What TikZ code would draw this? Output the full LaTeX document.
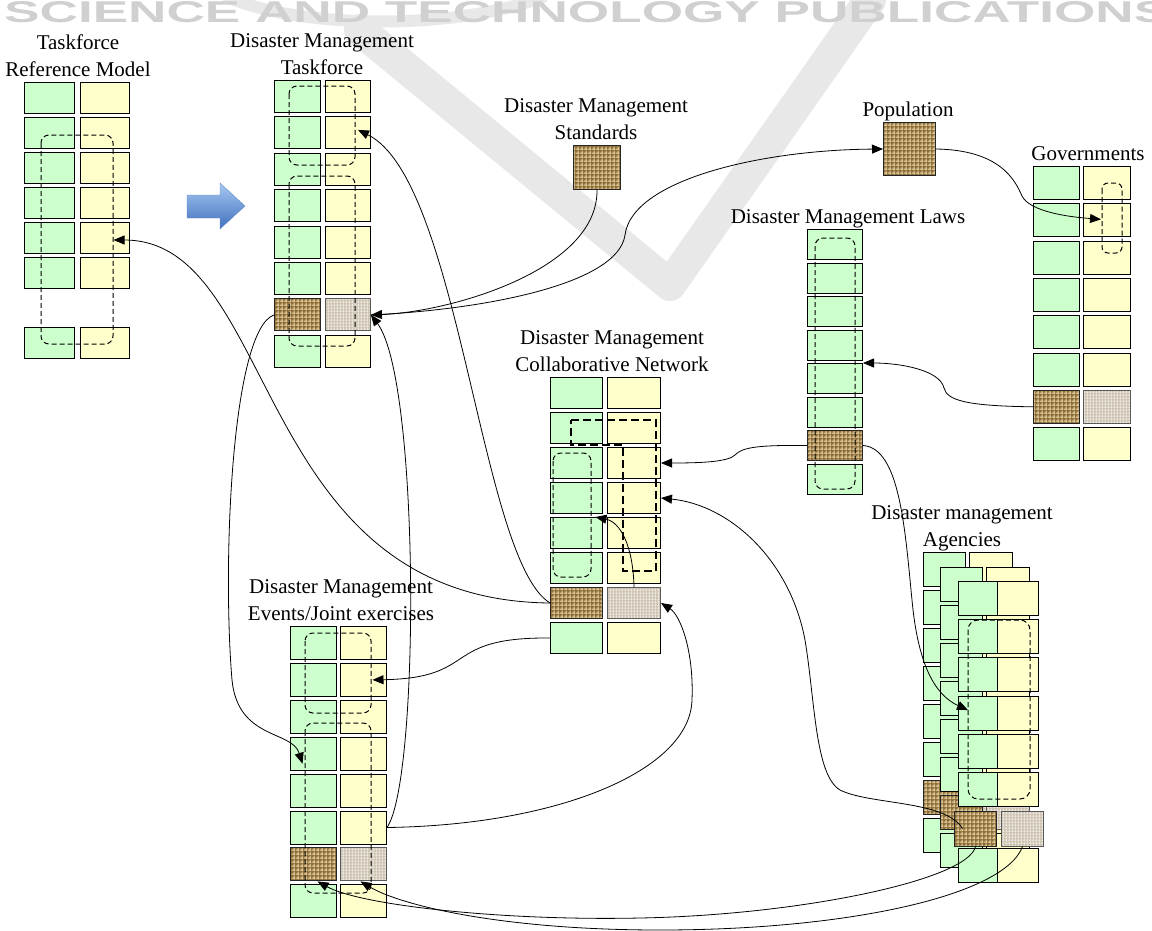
\documentclass[tikz,border=0pt]{standalone}
\usepackage{fontspec}
\usepackage{graphicx}
\setmainfont{Liberation Serif}
\newfontfamily\wmfont{Liberation Sans}
\usetikzlibrary{arrows.meta,patterns,calc}

% coarse weave for the burlap cells, finer one for the linen cells
\pgfdeclarepatternformonly{weave}{\pgfqpoint{0pt}{0pt}}{\pgfqpoint{4pt}{4pt}}{\pgfqpoint{4pt}{4pt}}{%
  \pgfsetlinewidth{1.2pt}%
  \pgfpathmoveto{\pgfqpoint{0pt}{1pt}}\pgfpathlineto{\pgfqpoint{4pt}{1pt}}%
  \pgfpathmoveto{\pgfqpoint{2.6pt}{0pt}}\pgfpathlineto{\pgfqpoint{2.6pt}{4pt}}%
  \pgfusepath{stroke}}
\pgfdeclarepatternformonly{fineweave}{\pgfqpoint{0pt}{0pt}}{\pgfqpoint{3pt}{3pt}}{\pgfqpoint{3pt}{3pt}}{%
  \pgfsetlinewidth{0.8pt}%
  \pgfpathmoveto{\pgfqpoint{0pt}{1pt}}\pgfpathlineto{\pgfqpoint{3pt}{1pt}}%
  \pgfpathmoveto{\pgfqpoint{2pt}{0pt}}\pgfpathlineto{\pgfqpoint{2pt}{3pt}}%
  \pgfusepath{stroke}}

\definecolor{cgreen}{HTML}{CCFFCC}
\definecolor{cyellow}{HTML}{FFFFCC}
\definecolor{burlap}{HTML}{8E6C38}
\definecolor{burlapweave}{HTML}{E6D6A4}
\definecolor{linen}{HTML}{CEC4B3}
\definecolor{linenweave}{HTML}{EDE8DF}
\definecolor{arrowtop}{HTML}{A6C8F2}
\definecolor{arrowbot}{HTML}{4170BE}
\definecolor{wmgray}{HTML}{D0D0D0}
\definecolor{swoosh}{HTML}{E8E8E8}

\tikzset{
  cell/.style={draw=black, line width=1pt, inner sep=0pt, anchor=north west},
  gcell/.style={cell, fill=cgreen},
  ycell/.style={cell, fill=cyellow},
  bcell/.style={cell, draw=black!85, preaction={fill=burlap}, pattern=weave, pattern color=burlapweave},
  lcell/.style={cell, draw=black!65, preaction={fill=linen}, pattern=fineweave, pattern color=linenweave},
  grp/.style={draw=black, line width=1pt, dash pattern=on 5pt off 3pt, rounded corners=8pt},
  boldgrp/.style={draw=black, line width=2.2pt, dash pattern=on 8pt off 4pt},
  link/.style={draw=black, line width=0.8pt, -{Triangle[length=11pt,width=9pt]}},
  title/.style={font=\fontsize{21}{27}\selectfont, align=center, anchor=south, inner sep=0pt, text depth=0pt},
}

\begin{document}
\begin{tikzpicture}[x=1pt,y=-1pt]
\clip (0,0) rectangle (1152,930);
\fill[white] (0,0) rectangle (1152,930);

% faint publisher watermark
\draw[swoosh, line width=32pt, line join=round, line cap=round] (360,30) -- (670,285) -- (870,0);
\draw[swoosh, line width=12pt] (225,-4) .. controls (300,30) and (460,30) .. (545,-4);
\node[anchor=north west, inner sep=0pt, text=wmgray] (wm) at (4,1)
  {\resizebox{1165pt}{21pt}{\wmfont\bfseries SCIENCE AND TECHNOLOGY PUBLICATIONS}};

% ---------- Taskforce Reference Model ----------
\foreach \k/\y in {1/82,2/117,3/152,4/187,5/222,6/257,7/327}{
  \node[gcell, minimum width=50pt, minimum height=31pt] (trm-l\k) at (24,\y) {};
  \node[ycell, minimum width=49pt, minimum height=31pt] (trm-r\k) at (80,\y) {};
}
\draw[grp] (41,135) rectangle (113,344);
\node[title] (trm-t) at (78,77) {Taskforce\\Reference Model};

% transition arrow
\shade[top color=arrowtop, bottom color=arrowbot, draw=arrowbot!80, line width=0.4pt]
  (187,195) -- (220,195) -- (220,183) -- (245,206) -- (220,229) -- (220,218) -- (187,218) -- cycle;

% ---------- Disaster Management Taskforce ----------
\foreach \k [evaluate=\k as \y using 80+36.4*(\k-1)] in {1,2,3,4,5,6,8}{
  \node[gcell, minimum width=46pt, minimum height=32pt] (dmt-l\k) at (274,\y) {};
  \node[ycell, minimum width=45pt, minimum height=32pt] (dmt-r\k) at (325,\y) {};
}
\node[bcell, minimum width=46pt, minimum height=32pt] (dmt-l7) at (274,298.4) {};
\node[lcell, minimum width=45pt, minimum height=32pt] (dmt-r7) at (325,298.4) {};
\draw[grp] (289,86) rectangle (355,165);
\draw[grp] (289,176) rectangle (355,346);
\node[title] (dmt-t) at (322,75) {Disaster Management\\Taskforce};

% ---------- Standards ----------
\node[bcell, minimum width=47pt, minimum height=44pt] (std) at (573,145) {};
\node[title] (std-t) at (596,140) {Disaster Management\\Standards};

% ---------- Population ----------
\node[bcell, minimum width=52pt, minimum height=53pt] (pop) at (883,122) {};
\node[title] (pop-t) at (908,117) {Population};

% ---------- Governments ----------
\foreach \k [evaluate=\k as \y using 166+37.3*(\k-1)] in {1,2,3,4,5,6,8}{
  \node[gcell, minimum width=46pt, minimum height=33pt] (gov-l\k) at (1033,\y) {};
  \node[ycell, minimum width=47pt, minimum height=33pt] (gov-r\k) at (1083,\y) {};
}
\node[bcell, minimum width=46pt, minimum height=33pt] (gov-l7) at (1033,389.8) {};
\node[lcell, minimum width=47pt, minimum height=33pt] (gov-r7) at (1083,389.8) {};
\draw[grp, rounded corners=6pt] (1102,183) rectangle (1122,253);
\node[title] (gov-t) at (1088,161) {Governments};

% ---------- Laws ----------
\foreach \k [evaluate=\k as \y using 229+33.5*(\k-1)] in {1,2,3,4,5,6,8}{
  \node[gcell, minimum width=55pt, minimum height=30pt] (law\k) at (807,\y) {};
}
\node[bcell, minimum width=55pt, minimum height=30pt] (law7) at (807,430) {};
\draw[grp] (815,238) rectangle (855,489);
\node[title] (law-t) at (848,224) {Disaster Management Laws};

% ---------- Collaborative Network ----------
\foreach \k [evaluate=\k as \y using 377+35*(\k-1)] in {1,2,3,4,5,6,8}{
  \node[gcell, minimum width=52pt, minimum height=31pt] (cn-l\k) at (550,\y) {};
  \node[ycell, minimum width=53pt, minimum height=31pt] (cn-r\k) at (607,\y) {};
}
\node[bcell, minimum width=52pt, minimum height=31pt] (cn-l7) at (550,587) {};
\node[lcell, minimum width=53pt, minimum height=31pt] (cn-r7) at (607,587) {};
\draw[grp] (553,453) rectangle (591,577);
\draw[boldgrp] (571,420) -- (656,420) -- (656,571) -- (623,571) -- (623,445) -- (571,445) -- cycle;
\node[title] (cn-t) at (612,372) {Disaster Management\\Collaborative Network};

% ---------- Events / Joint exercises ----------
\foreach \k [evaluate=\k as \y using 626+36.9*(\k-1)] in {1,2,3,4,5,6,8}{
  \node[gcell, minimum width=46pt, minimum height=33pt] (ev-l\k) at (290,\y) {};
  \node[ycell, minimum width=46pt, minimum height=33pt] (ev-r\k) at (340,\y) {};
}
\node[bcell, minimum width=46pt, minimum height=33pt] (ev-l7) at (290,847.4) {};
\node[lcell, minimum width=46pt, minimum height=33pt] (ev-r7) at (340,847.4) {};
\draw[grp] (305,633) rectangle (371,713);
\draw[grp] (305,723) rectangle (371,893);
\node[title] (ev-t) at (341,621) {Disaster Management\\Events/Joint exercises};

% ---------- Agencies (stacked) ----------
\foreach \lay/\dx/\dy in {a/0/0,b/17/14.5}{
  \foreach \k [evaluate=\k as \y using 552+\dy+38*(\k-1)] in {1,2,3,4,5,6,8}{
    \node[gcell, minimum width=42pt, minimum height=34pt] (ag\lay-l\k) at (923+\dx,\y) {};
    \node[ycell, minimum width=43pt, minimum height=34pt] (ag\lay-r\k) at (969+\dx,\y) {};
  }
  \node[lcell, minimum width=43pt, minimum height=34pt] (ag\lay-r7) at (969+\dx,780+\dy) {};
  \node[bcell, minimum width=42pt, minimum height=34pt] (ag\lay-l7) at (923+\dx,780+\dy) {};
}
\foreach \k [evaluate=\k as \y using 581+38.2*(\k-1)] in {1,2,3,4,5,6,8}{
  \node[gcell, minimum width=39pt, minimum height=34pt] (agf-l\k) at (958,\y) {};
  \node[ycell, minimum width=41pt, minimum height=34pt] (agf-r\k) at (997,\y) {};
}
\node[bcell, minimum width=42pt, minimum height=35pt] (agf-b) at (954,810.5) {};
\node[lcell, minimum width=42pt, minimum height=35pt] (agf-l) at (1001,810.5) {};
\draw[grp, rounded corners=10pt] (968,620) rectangle (1030,799);
\node[title] (ag-t) at (962,547) {Disaster management\\Agencies};

% ---------- connector end points ----------
\coordinate (trm-in) at ([xshift=8.5pt,yshift=-2pt]trm-r5.center);
\coordinate (dmt-in2) at ([xshift=10pt,yshift=3pt]dmt-r2.center);
\coordinate (ev-in2) at ([xshift=9pt]ev-r2.center);
\coordinate (ev-in4) at ([xshift=-11pt,yshift=-10pt]ev-l4.center);
\coordinate (gov-in2) at ([xshift=-6pt,yshift=1pt]gov-r2.center);
\coordinate (ag-in4) at ([xshift=10pt,yshift=3pt]agf-l4.west);
\coordinate (ag-out) at ([xshift=-13pt]agf-b.center);
\coordinate (ev-in7l) at ([xshift=4pt]ev-l7.south);
\coordinate (ev-in7r) at ([xshift=-3pt]ev-r7.south);
\coordinate (cn-in5) at ([xshift=19pt]cn-l5.north);

% ---------- connectors ----------
\draw[link] (cn-l7.west) .. controls (250,600) and (280,240) .. (trm-in);
\draw[link] (cn-l7.west) .. controls (480,560) and (460,180) .. (dmt-in2);
\draw[link] (cn-l8.west) .. controls (440,637) and (480,678) .. (ev-in2);
\draw[link] (std.south) .. controls (598,270) and (450,312) .. (dmt-r7.east);
\draw[link] (ev-r6.east) .. controls (420,780) and (420,380) .. (dmt-r7.east);
\draw[link] (dmt-r7.east) .. controls (480,310) and (618,285) .. (625,235)
                         .. controls (632,180) and (760,150) .. (pop.west);
\draw[link] (ev-r6.east) .. controls (560,825) and (690,770) .. (692,700)
                        .. controls (694,650) and (680,615) .. (cn-r7.east);
\draw[link] (dmt-l7.west) .. controls (232,330) and (222,560) .. (232,680)
                         .. controls (238,740) and (292,730) .. (ev-in4);
\draw[link] (pop.east) .. controls (1000,150) and (1015,180) .. (1022,196)
                      .. controls (1030,212) and (1070,217) .. (gov-in2);
\draw[link] (gov-l7.west) .. controls (965,406) and (947,400) .. (944,388)
                         .. controls (940,370) and (900,363) .. (law5.north east);
\draw[link] (law7.west) .. controls (760,445) and (742,447) .. (735,455)
                       .. controls (728,462) and (700,463) .. (cn-r3.east);
\draw[link] (law7.east) .. controls (900,448) and (905,530) .. (912,600)
                       .. controls (918,665) and (935,695) .. (ag-in4);
\draw[link] (ag-out) .. controls (945,800) and (870,805) .. (840,790)
                    .. controls (815,775) and (815,700) .. (805,640)
                    .. controls (790,560) and (730,505) .. (cn-r4.east);
\draw[link] (agf-b.south) .. controls (968,880) and (800,915) .. (640,918)
                         .. controls (500,921) and (360,905) .. (ev-in7l);
\draw[link] (agf-l.south) .. controls (1005,895) and (850,930) .. (660,930)
                         .. controls (500,930) and (400,905) .. (ev-in7r);
\draw[link] (cn-r7.north) .. controls (633,545) and (620,522) .. (cn-in5);
\end{tikzpicture}
\end{document}
